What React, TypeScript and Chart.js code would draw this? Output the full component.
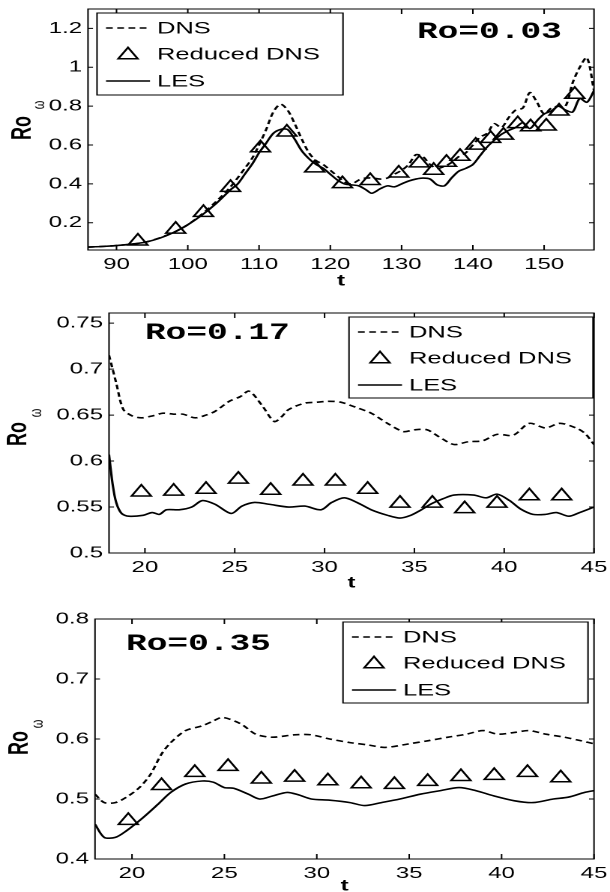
import React, { useEffect, useRef } from 'react';
import { Chart, registerables } from 'chart.js';
Chart.register(...registerables);

// ---------- Panel 1 (Ro=0.03) ----------
const p1DnsT = [86, 90, 94, 98, 100, 102, 104, 106, 108, 109, 110, 111, 112, 113, 114, 115, 116, 117, 118, 119, 120, 121, 122, 123, 124, 125, 126, 127, 128, 129, 130, 131, 132, 133, 134, 135, 136, 137, 138, 139, 140, 141, 142, 143, 144, 145, 146, 147, 148, 149, 150, 151, 152, 153, 154, 155, 156, 157];
const p1DnsRo = [0.075, 0.083, 0.1, 0.15, 0.19, 0.245, 0.31, 0.385, 0.48, 0.53, 0.6, 0.68, 0.77, 0.81, 0.78, 0.71, 0.63, 0.56, 0.52, 0.5, 0.47, 0.44, 0.41, 0.4, 0.42, 0.43, 0.43, 0.425, 0.43, 0.45, 0.47, 0.5, 0.55, 0.54, 0.5, 0.48, 0.49, 0.51, 0.54, 0.56, 0.6, 0.64, 0.66, 0.71, 0.69, 0.74, 0.78, 0.79, 0.87, 0.82, 0.76, 0.79, 0.8, 0.8, 0.92, 1.0, 1.05, 0.88];
const p1LesT = [86, 88, 90, 92, 94, 96, 98, 100, 102, 104, 106, 107, 108, 109, 110, 111, 112, 113, 114, 115, 116, 117, 118, 119, 120, 121, 122, 123, 124, 125, 125.8, 127, 128, 129, 130, 131, 132, 133, 134, 135, 136, 137, 138, 139, 140, 141, 142, 143, 144, 145, 146, 147, 148, 149, 150, 151, 152, 153, 154, 155, 156, 157];
const p1LesRo = [0.075, 0.078, 0.083, 0.09, 0.1, 0.12, 0.15, 0.19, 0.24, 0.3, 0.37, 0.4, 0.45, 0.5, 0.56, 0.61, 0.66, 0.68, 0.68, 0.63, 0.57, 0.53, 0.5, 0.48, 0.45, 0.42, 0.4, 0.395, 0.39, 0.37, 0.352, 0.375, 0.39, 0.385, 0.4, 0.415, 0.425, 0.43, 0.425, 0.395, 0.39, 0.43, 0.465, 0.48, 0.5, 0.545, 0.59, 0.625, 0.655, 0.675, 0.69, 0.715, 0.685, 0.725, 0.76, 0.775, 0.8, 0.78, 0.77, 0.84, 0.82, 0.88];
const p1RedT = [93, 98.3, 102.2, 106, 110.2, 113.9, 117.8, 121.7, 125.6, 129.6, 132.5, 134.5, 136.3, 138.2, 140.4, 142.5, 144.3, 146.3, 148.1, 150.3, 152.1, 154.3];
const p1RedRo = [0.105, 0.166, 0.252, 0.381, 0.585, 0.666, 0.481, 0.4, 0.416, 0.455, 0.507, 0.469, 0.51, 0.541, 0.598, 0.633, 0.65, 0.709, 0.693, 0.697, 0.774, 0.86];
const p1XTicks = [90, 100, 110, 120, 130, 140, 150];
const p1XLabels = ['90', '100', '110', '120', '130', '140', '150'];
const p1YTicks = [0.2, 0.4, 0.6, 0.8, 1.0, 1.2];
const p1YLabels = ['0.2', '0.4', '0.6', '0.8', '1', '1.2'];

// ---------- Panel 2 (Ro=0.17) ----------
const p2DnsT = [18, 18.4, 18.8, 19.3, 19.8, 20.4, 21.0, 21.6, 22.1, 22.8, 23.4, 23.9, 24.7, 25.3, 25.8, 26.5, 27.2, 27.6, 28.0, 28.9, 29.6, 30.2, 30.9, 31.8, 32.6, 33.5, 34.4, 35.0, 35.7, 36.4, 37.2, 38.0, 38.8, 39.6, 40.5, 41.4, 42.3, 43.1, 44.0, 44.5, 45.0];
const p2DnsRo = [0.715, 0.685, 0.656, 0.649, 0.647, 0.649, 0.652, 0.651, 0.651, 0.647, 0.65, 0.654, 0.665, 0.67, 0.676, 0.661, 0.643, 0.648, 0.656, 0.663, 0.664, 0.665, 0.664, 0.658, 0.652, 0.641, 0.632, 0.634, 0.634, 0.626, 0.618, 0.621, 0.622, 0.629, 0.628, 0.641, 0.636, 0.641, 0.636, 0.63, 0.618];
const p2LesT = [18, 18.2, 18.4, 18.7, 19.1, 19.9, 20.4, 20.8, 21.2, 21.9, 22.6, 23.2, 23.9, 24.8, 25.4, 26.1, 26.9, 28.0, 28.9, 29.8, 30.4, 31.1, 31.8, 32.6, 33.5, 34.2, 34.8, 35.3, 35.9, 36.6, 37.2, 38.3, 39.0, 39.6, 40.3, 40.9, 41.6, 42.3, 42.9, 43.6, 44.2, 45.0];
const p2LesRo = [0.607, 0.575, 0.555, 0.543, 0.54, 0.541, 0.544, 0.542, 0.547, 0.547, 0.55, 0.557, 0.553, 0.543, 0.551, 0.555, 0.553, 0.55, 0.551, 0.547, 0.555, 0.56, 0.555, 0.547, 0.541, 0.538, 0.541, 0.546, 0.553, 0.559, 0.563, 0.563, 0.56, 0.564, 0.557, 0.548, 0.542, 0.542, 0.544, 0.54, 0.544, 0.55];
const p2RedT = [19.8, 21.6, 23.4, 25.2, 27.0, 28.8, 30.6, 32.4, 34.2, 36.0, 37.8, 39.6, 41.4, 43.2];
const p2RedRo = [0.566, 0.567, 0.569, 0.58, 0.568, 0.578, 0.578, 0.569, 0.554, 0.554, 0.548, 0.554, 0.562, 0.562];
const p2XTicks = [20, 25, 30, 35, 40, 45];
const p2XLabels = ['20', '25', '30', '35', '40', '45'];
const p2YTicks = [0.5, 0.55, 0.6, 0.65, 0.7, 0.75];
const p2YLabels = ['0.5', '0.55', '0.6', '0.65', '0.7', '0.75'];

// ---------- Panel 3 (Ro=0.35) ----------
const p3DnsT = [18, 18.5, 19.1, 19.7, 20.4, 21.0, 21.6, 22.1, 22.9, 23.8, 24.4, 24.9, 25.9, 26.7, 27.6, 28.8, 29.7, 30.7, 31.8, 32.8, 33.7, 35.0, 36.0, 37.1, 38.1, 39.0, 39.8, 40.7, 41.5, 42.4, 43.4, 44.3, 45.0];
const p3DnsRo = [0.508, 0.494, 0.494, 0.503, 0.519, 0.541, 0.575, 0.594, 0.614, 0.622, 0.63, 0.636, 0.625, 0.608, 0.603, 0.607, 0.607, 0.6, 0.594, 0.59, 0.586, 0.592, 0.597, 0.603, 0.608, 0.614, 0.608, 0.611, 0.614, 0.608, 0.603, 0.597, 0.592];
const p3LesT = [18, 18.5, 19.1, 19.7, 20.6, 21.4, 22.1, 22.9, 23.8, 24.4, 25.0, 25.5, 26.3, 26.9, 27.6, 28.4, 29.0, 29.7, 30.7, 31.8, 32.6, 33.5, 34.5, 35.6, 36.7, 37.7, 38.6, 39.6, 40.7, 41.7, 42.8, 43.6, 44.5, 45.0];
const p3LesRo = [0.458, 0.436, 0.436, 0.447, 0.469, 0.491, 0.511, 0.525, 0.53, 0.528, 0.519, 0.518, 0.508, 0.5, 0.505, 0.511, 0.507, 0.5, 0.498, 0.494, 0.489, 0.494, 0.5, 0.508, 0.514, 0.519, 0.514, 0.505, 0.497, 0.494, 0.5, 0.503, 0.511, 0.514];
const p3RedT = [19.8, 21.6, 23.4, 25.2, 27.0, 28.8, 30.6, 32.4, 34.2, 36.0, 37.8, 39.6, 41.4, 43.2];
const p3RedRo = [0.464, 0.522, 0.544, 0.554, 0.533, 0.536, 0.53, 0.525, 0.524, 0.529, 0.537, 0.539, 0.544, 0.535];
const p3XTicks = [20, 25, 30, 35, 40, 45];
const p3XLabels = ['20', '25', '30', '35', '40', '45'];
const p3YTicks = [0.4, 0.5, 0.6, 0.7, 0.8];
const p3YLabels = ['0.4', '0.5', '0.6', '0.7', '0.8'];

const seriesNames = ['DNS', 'Reduced DNS', 'LES'];
const panelTitles = ['Ro=0.03', 'Ro=0.17', 'Ro=0.35'];

// ---------- layout (display px; x is drawn on a horizontally stretched canvas) ----------
const W = 610;
const LW = 407;
const S = W / LW;
const SANS = "'Liberation Sans', Arial, Helvetica, sans-serif";
const MONO = "'Liberation Mono', 'Courier New', monospace";

const panels = [
  {
    top: 0, h: 295, left: 88, right: 594, areaTop: 8, areaBottom: 250,
    xMin: 86, xMax: 157, yMin: 0.06, yMax: 1.3,
    dnsT: p1DnsT, dnsRo: p1DnsRo, lesT: p1LesT, lesRo: p1LesRo, redT: p1RedT, redRo: p1RedRo,
    xTicks: p1XTicks, xLabels: p1XLabels, yTicks: p1YTicks, yLabels: p1YLabels,
    title: panelTitles[0], titleX: 417, titleY: 31,
    legX: 97, legY: 13, legW: 246, legH: 82,
    roX: 23, roY: 128, omX: 40, omY: 105, tY: 281,
  },
  {
    top: 295, h: 300, left: 109, right: 594, areaTop: 18, areaBottom: 258,
    xMin: 18, xMax: 45, yMin: 0.5, yMax: 0.761,
    dnsT: p2DnsT, dnsRo: p2DnsRo, lesT: p2LesT, lesRo: p2LesRo, redT: p2RedT, redRo: p2RedRo,
    xTicks: p2XTicks, xLabels: p2XLabels, yTicks: p2YTicks, yLabels: p2YLabels,
    title: panelTitles[1], titleX: 145, titleY: 37,
    legX: 349, legY: 22, legW: 244, legH: 81,
    roX: 19, roY: 139, omX: 37, omY: 118, tY: 288,
  },
  {
    top: 595, h: 297, left: 95, right: 594, areaTop: 24, areaBottom: 264,
    xMin: 18, xMax: 45, yMin: 0.4, yMax: 0.8,
    dnsT: p3DnsT, dnsRo: p3DnsRo, lesT: p3LesT, lesRo: p3LesRo, redT: p3RedT, redRo: p3RedRo,
    xTicks: p3XTicks, xLabels: p3XLabels, yTicks: p3YTicks, yLabels: p3YLabels,
    title: panelTitles[2], titleX: 126, titleY: 48,
    legX: 343, legY: 27, legW: 245, legH: 81,
    roX: 20, roY: 148, omX: 38, omY: 129, tY: 291,
  },
];

const DASH = [4.5, 3];
const LINE_W = 1.6;
const TRI_R = 7.5;

function triangle(ctx: CanvasRenderingContext2D, x: number, y: number, r: number) {
  const s = Math.sin(Math.PI / 3) * r;
  ctx.beginPath();
  ctx.moveTo(x, y - r);
  ctx.lineTo(x + s, y + r / 2);
  ctx.lineTo(x - s, y + r / 2);
  ctx.closePath();
  ctx.stroke();
}

function makeDecor(cfg: any) {
  return {
    id: 'decor',
    afterDatasetsDraw(chart: any) {
      const ctx: CanvasRenderingContext2D = chart.ctx;
      const a = chart.chartArea;
      const xs = chart.scales.x;
      const ys = chart.scales.y;
      ctx.save();
      ctx.strokeStyle = '#000';
      ctx.fillStyle = '#000';
      ctx.lineWidth = 1;
      ctx.setLineDash([]);
      // frame
      ctx.strokeRect(a.left, a.top, a.right - a.left, a.bottom - a.top);
      // inward tick marks
      ctx.beginPath();
      cfg.xTicks.forEach((v: number) => {
        const p = xs.getPixelForValue(v);
        ctx.moveTo(p, a.bottom); ctx.lineTo(p, a.bottom - 5);
        ctx.moveTo(p, a.top); ctx.lineTo(p, a.top + 5);
      });
      cfg.yTicks.forEach((v: number) => {
        const p = ys.getPixelForValue(v);
        ctx.moveTo(a.left, p); ctx.lineTo(a.left + 5 / S, p);
        ctx.moveTo(a.right, p); ctx.lineTo(a.right - 5 / S, p);
      });
      ctx.stroke();

      // legend
      const lx = cfg.legX / S;
      const lw = cfg.legW / S;
      ctx.fillStyle = '#fff';
      ctx.fillRect(lx, cfg.legY, lw, cfg.legH);
      ctx.strokeRect(lx, cfg.legY, lw, cfg.legH);
      ctx.fillStyle = '#000';
      ctx.font = `17px ${SANS}`;
      ctx.textAlign = 'left';
      ctx.textBaseline = 'middle';
      const rows = [15, 41, 68];
      const x0 = (cfg.legX + 9) / S;
      const x1 = (cfg.legX + 53) / S;
      const xm = (cfg.legX + 31) / S;
      const xt = (cfg.legX + 60) / S;
      ctx.lineWidth = LINE_W;
      // DNS
      let y = cfg.legY + rows[0];
      ctx.setLineDash(DASH);
      ctx.beginPath(); ctx.moveTo(x0, y); ctx.lineTo(x1, y); ctx.stroke();
      ctx.setLineDash([]);
      ctx.fillText(seriesNames[0], xt, y + 1);
      // Reduced DNS
      y = cfg.legY + rows[1];
      ctx.lineWidth = 1.5;
      triangle(ctx, xm, y + 1, TRI_R);
      ctx.fillText(seriesNames[1], xt, y + 1);
      // LES
      y = cfg.legY + rows[2];
      ctx.lineWidth = LINE_W;
      ctx.beginPath(); ctx.moveTo(x0, y); ctx.lineTo(x1, y); ctx.stroke();
      ctx.fillText(seriesNames[2], xt, y + 1);

      // panel annotation
      ctx.font = `bold 23px ${MONO}`;
      ctx.fillText(cfg.title, cfg.titleX / S, cfg.titleY + 1);

      // x-axis title
      ctx.font = `bold 16px ${SANS}`;
      ctx.textAlign = 'center';
      ctx.fillText('t', (a.left + a.right) / 2, cfg.tY);

      // y-axis title Ro_ω
      ctx.save();
      ctx.translate(cfg.roX / S, cfg.roY);
      ctx.rotate(-Math.PI / 2);
      ctx.font = `bold 18px ${SANS}`;
      ctx.fillText('Ro', 0, 0);
      ctx.restore();
      ctx.save();
      ctx.translate(cfg.omX / S, cfg.omY);
      ctx.rotate(-Math.PI / 2);
      ctx.font = `11px ${SANS}`;
      ctx.fillText('ω', 0, 0);
      ctx.restore();

      ctx.restore();
    },
  };
}

function Panel({ cfg }: { cfg: any }) {
  const ref = useRef<HTMLCanvasElement | null>(null);
  useEffect(() => {
    if (!ref.current) return;
    const pts = (t: number[], v: number[]) => t.map((x, i) => ({ x, y: v[i] }));
    const chart = new Chart(ref.current, {
      type: 'line',
      data: {
        datasets: [
          {
            label: seriesNames[0],
            data: pts(cfg.dnsT, cfg.dnsRo),
            borderColor: '#000',
            borderWidth: LINE_W,
            borderDash: DASH,
            pointRadius: 0,
            tension: 0.3,
            fill: false,
          },
          {
            label: seriesNames[2],
            data: pts(cfg.lesT, cfg.lesRo),
            borderColor: '#000',
            borderWidth: LINE_W,
            pointRadius: 0,
            tension: 0.3,
            fill: false,
          },
          {
            label: seriesNames[1],
            data: pts(cfg.redT, cfg.redRo),
            showLine: false,
            pointStyle: 'triangle',
            pointRadius: TRI_R,
            pointBorderWidth: 1.5,
            pointBorderColor: '#000',
            pointBackgroundColor: 'rgba(0,0,0,0)',
            borderColor: '#000',
            backgroundColor: 'rgba(0,0,0,0)',
          },
        ],
      },
      options: {
        animation: false,
        responsive: false,
        devicePixelRatio: 2,
        events: [],
        layout: { padding: { left: 0, right: LW - cfg.right / S, top: cfg.areaTop, bottom: 0 } },
        plugins: { legend: { display: false }, tooltip: { enabled: false } },
        scales: {
          x: {
            type: 'linear',
            min: cfg.xMin,
            max: cfg.xMax,
            grid: { display: false, drawTicks: false },
            border: { display: false },
            afterBuildTicks: (s: any) => { s.ticks = cfg.xTicks.map((v: number) => ({ value: v })); },
            afterFit: (s: any) => { s.height = cfg.h - cfg.areaBottom; s.paddingLeft = 0; s.paddingRight = 0; },
            ticks: {
              autoSkip: false,
              maxRotation: 0,
              padding: 5,
              color: '#000',
              font: { family: SANS, size: 16 },
              callback: (_v: any, i: number) => cfg.xLabels[i],
            },
          },
          y: {
            type: 'linear',
            min: cfg.yMin,
            max: cfg.yMax,
            grid: { display: false, drawTicks: false },
            border: { display: false },
            afterBuildTicks: (s: any) => { s.ticks = cfg.yTicks.map((v: number) => ({ value: v })); },
            afterFit: (s: any) => { s.width = cfg.left / S; s.paddingTop = 0; s.paddingBottom = 0; },
            ticks: {
              autoSkip: false,
              padding: 4,
              color: '#000',
              font: { family: SANS, size: 16 },
              callback: (_v: any, i: number) => cfg.yLabels[i],
            },
          },
        },
      },
      plugins: [makeDecor(cfg)],
    } as any);
    return () => chart.destroy();
  }, []);
  return (
    <canvas
      ref={ref}
      width={LW}
      height={cfg.h}
      style={{ position: 'absolute', left: 0, top: cfg.top, width: `${W}px`, height: `${cfg.h}px`, display: 'block' }}
    />
  );
}

export default function App() {
  return (
    <div style={{ position: 'absolute', left: 0, top: 0, width: W, height: 892, background: '#fff', overflow: 'hidden' }}>
      {panels.map((p, i) => (
        <Panel key={i} cfg={p} />
      ))}
    </div>
  );
}
